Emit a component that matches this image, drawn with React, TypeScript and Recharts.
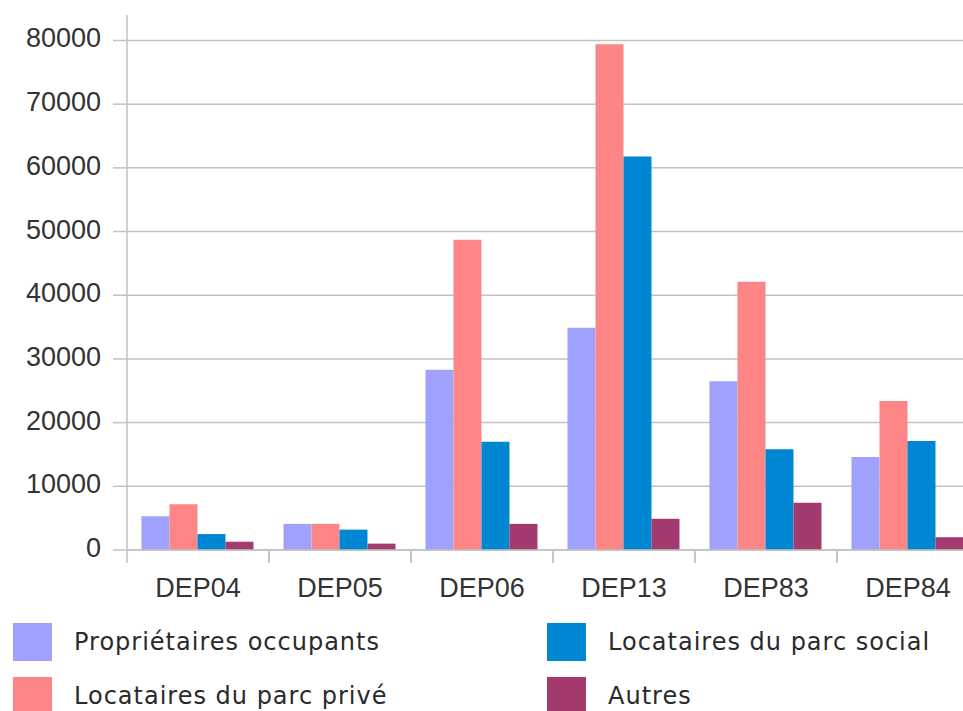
import React from 'react';
import { BarChart, Bar, XAxis, YAxis, CartesianGrid } from 'recharts';

const categories = ['DEP04', 'DEP05', 'DEP06', 'DEP13', 'DEP83', 'DEP84'];
const proprietaires = [5300, 4100, 28300, 34900, 26500, 14600];
const locPrive = [7200, 4100, 48700, 79400, 42100, 23400];
const locSocial = [2500, 3200, 17000, 61800, 15800, 17100];
const autres = [1300, 1000, 4100, 4900, 7400, 2000];
const yTicks = [0, 10000, 20000, 30000, 40000, 50000, 60000, 70000, 80000];
const yDomain = [0, 84000];

const seriesKeys = ['po', 'lpp', 'lps', 'aut'];
const seriesNames = [
  'Propriétaires occupants',
  'Locataires du parc privé',
  'Locataires du parc social',
  'Autres',
];
const seriesColors = ['#a0a0fd', '#fd8585', '#0087d3', '#a23a6d'];

const data = categories.map((c, i) => ({
  name: c,
  po: proprietaires[i],
  lpp: locPrive[i],
  lps: locSocial[i],
  aut: autres[i],
}));

const GRID = '#c2c2c2';
const FONT = '"Liberation Sans", Arial, sans-serif';
const X_TICK_GAP = 28; // tickSize + tickMargin of the category axis

const YTick = (props: any) => {
  const { x, y, payload } = props;
  return (
    <text x={x} y={y} dy={7} textAnchor="end" fontSize={27} fill="#333" fontFamily={FONT}>
      {payload.value}
    </text>
  );
};

const XTick = (props: any) => {
  const { x, y, payload } = props;
  const half = payload && payload.offset ? payload.offset : 71;
  const axisY = y - X_TICK_GAP;
  return (
    <g>
      <line x1={x - half} x2={x - half} y1={axisY} y2={axisY + 13} stroke={GRID} strokeWidth={1.5} />
      <line x1={x + half} x2={x + half} y1={axisY} y2={axisY + 13} stroke={GRID} strokeWidth={1.5} />
      <text x={x} y={y} dy={19} textAnchor="middle" fontSize={27} fill="#333" fontFamily={FONT}>
        {payload.value}
      </text>
    </g>
  );
};

// horizontal grid rows only at the labelled ticks (no line at the top of the plot)
const gridRows = (args: any) => {
  const yAxis = args && args.yAxis;
  if (yAxis && typeof yAxis.scale === 'function') return yTicks.map((t) => yAxis.scale(t));
  const off = (args && args.offset) || {};
  const top = off.top || 0;
  const h = off.height || 0;
  return yTicks.map((t) => top + h * (1 - (t - yDomain[0]) / (yDomain[1] - yDomain[0])));
};

const legendCols = [13, 547];
const legendRows = [623, 677];

export default function App() {
  return (
    <div
      style={{
        position: 'fixed',
        left: 0,
        top: 0,
        width: 963,
        height: 711,
        overflow: 'hidden',
        background: '#fff',
      }}
    >
      <div style={{ position: 'absolute', left: 0, top: 0 }}>
        <BarChart
          width={1000}
          height={620}
          data={data}
          margin={{ top: 15, right: 21, bottom: 0, left: 0 }}
          barCategoryGap="10.2%"
          barGap={0}
        >
          <CartesianGrid
            vertical={false}
            stroke={GRID}
            strokeWidth={1.5}
            horizontalCoordinatesGenerator={gridRows}
          />
          <XAxis
            dataKey="name"
            height={70}
            axisLine={{ stroke: GRID, strokeWidth: 1.5 }}
            tickLine={false}
            tickSize={6}
            tickMargin={22}
            interval={0}
            tick={<XTick />}
          />
          <YAxis
            width={127}
            type="number"
            domain={yDomain}
            ticks={yTicks}
            interval={0}
            tickSize={14}
            tickMargin={12}
            axisLine={{ stroke: GRID, strokeWidth: 1.5 }}
            tickLine={{ stroke: GRID, strokeWidth: 1.5 }}
            tick={<YTick />}
          />
          {seriesKeys.map((k, i) => (
            <Bar key={k} dataKey={k} name={seriesNames[i]} fill={seriesColors[i]} isAnimationActive={false} />
          ))}
        </BarChart>
      </div>
      {seriesNames.map((n, i) => {
        const col = Math.floor(i / 2);
        const row = i % 2;
        return (
          <div
            key={n}
            style={{
              position: 'absolute',
              left: legendCols[col],
              top: legendRows[row],
              display: 'flex',
              alignItems: 'flex-start',
              whiteSpace: 'nowrap',
            }}
          >
            <div style={{ width: 39, height: 38, background: seriesColors[i] }} />
            <div
              style={{
                marginLeft: 22,
                height: 38,
                lineHeight: '38px',
                fontFamily: '"DejaVu Sans", sans-serif',
                fontSize: 24,
                letterSpacing: 1,
                color: '#2a2a2a',
              }}
            >
              {n}
            </div>
          </div>
        );
      })}
    </div>
  );
}
